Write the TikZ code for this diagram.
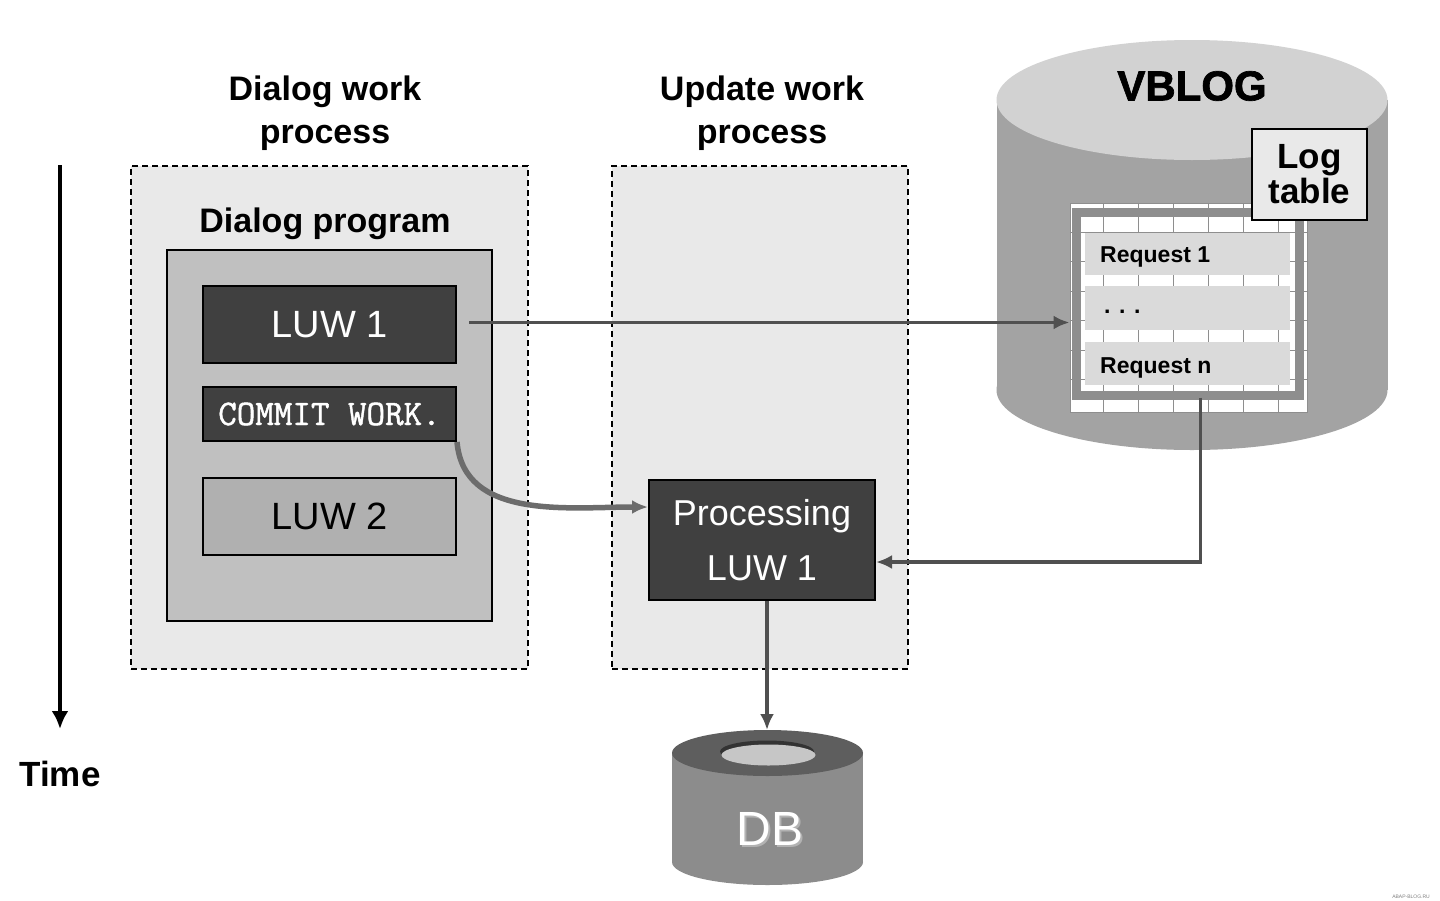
\documentclass[tikz,border=0pt]{standalone}
\usepackage{fontspec}
\setmainfont{Liberation Sans}
\newfontfamily\blackfont[FakeBold=1.6]{Liberation Sans Bold}
\newfontfamily\codefont[FakeBold=1.3]{Latin Modern Mono}
\usepackage{tikz}
\usetikzlibrary{arrows.meta,shapes}
\usepackage{xcolor}
\definecolor{paleback}{HTML}{E9E9E9}
\definecolor{progfill}{HTML}{C0C0C0}
\definecolor{darkbox}{HTML}{404040}
\definecolor{midbox}{HTML}{B0B0B0}
\definecolor{linkgray}{HTML}{505050}
\definecolor{cyltop}{HTML}{D2D2D2}
\definecolor{cylside}{HTML}{A3A3A3}
\definecolor{bandgray}{HTML}{8E8E8E}
\definecolor{rowgray}{HTML}{DADADA}
\definecolor{dbring}{HTML}{5E5E5E}
\definecolor{dbside}{HTML}{8C8C8C}
\definecolor{dbhole}{HTML}{C6C6C6}

\begin{document}
\begin{tikzpicture}[x=1pt,y=-1pt]
\tikzstyle{every node}+=[inner sep=0pt]
\tikzstyle{procarea}=[draw=black, line width=1.6pt, dash pattern=on 6pt off 4pt, fill=paleback]
\tikzstyle{darkstep}=[draw=black, line width=2pt, fill=darkbox, text=white]
\tikzstyle{title}=[font=\bfseries\fontsize{34}{43}\selectfont, align=center]
\tikzstyle{reqrow}=[font=\bfseries\fontsize{23}{28}\selectfont, anchor=west]
\tikzstyle{link}=[draw=linkgray, line width=3.5pt, -{Latex[length=16pt,width=14pt]}]
\useasboundingbox (0,0) rectangle (1440,900);
\fill [white] (0,0) rectangle (1440,900);
% time axis
\coordinate (tstart) at (60,165);
\coordinate (tend) at (60,729);
\draw [black, line width=4pt, -{Latex[length=18pt,width=17pt]}] (tstart) -- (tend);
\node (time) at (60,774) [font=\bfseries\fontsize{35}{40}\selectfont] {Time};
% dialog side
\node (dlgtitle) at (325,113) [title] {Dialog work\\process};
\node (dlgproc) at (329.5,417.5) [procarea, minimum width=397pt, minimum height=503pt] {};
\node (dlgprogtitle) at (325,224) [title] {Dialog program};
\node (dlgprog) at (329.5,435.5) [draw=black, line width=2pt, fill=progfill, minimum width=325pt, minimum height=371pt] {};
\node (luw1) at (329.5,324.5) [darkstep, minimum width=253pt, minimum height=77pt, font=\fontsize{38}{44}\selectfont] {LUW 1};
\node (commit) at (329.5,414) [darkstep, minimum width=253pt, minimum height=54pt, font=\codefont\fontsize{36}{40}\selectfont] {COMMIT WORK.};
\node (luw2) at (329.5,516.5) [draw=black, line width=2pt, fill=midbox, minimum width=253pt, minimum height=77pt, font=\fontsize{38}{44}\selectfont] {LUW 2};
% update side
\node (updtitle) at (762,113) [title] {Update work\\process};
\node (updproc) at (760,417.5) [procarea, minimum width=296pt, minimum height=503pt] {};
\node (proc) at (762,540) [darkstep, minimum width=226pt, minimum height=120pt, align=center, font=\fontsize{36}{55}\selectfont] {Processing\\LUW 1};
% VBLOG cylinder
\fill [cylside] (1192,390) ellipse [x radius=195.5pt, y radius=60pt];
\fill [cylside] (996.5,100) rectangle (1387.5,390);
\fill [cyltop] (1192,100) ellipse [x radius=195.5pt, y radius=60pt];
\node (vblog) at (1192,86) [font=\blackfont\fontsize{42}{48}\selectfont] {VBLOG};
% log table grid
\node (grid) at (1188.5,307.5) [fill=white, draw=bandgray, line width=1pt, minimum width=237pt, minimum height=209pt] {};
\foreach \x in {1103,1138,1173,1208,1243,1278}
  \draw [bandgray, line width=1pt] (\x,203) -- (\x,412);
\foreach \y in {232,261.5,291,320.5,350,379.5}
  \draw [bandgray, line width=1pt] (1070,\y) -- (1307,\y);
\draw [bandgray, line width=9pt] (1076.5,212.5) rectangle (1299.5,395);
\fill [rowgray] (1085,233) rectangle (1290,275);
\fill [rowgray] (1085,286) rectangle (1290,330);
\fill [rowgray] (1085,342) rectangle (1290,385);
\node (req1) at (1100,257) [reqrow] {Request 1};
\node (reqdots) at (1104,312) [reqrow] {. . .};
\node (reqn) at (1100,368) [reqrow] {Request n};
\node (logtab) at (1309.5,174.5) [draw=black, line width=2pt, fill=paleback, minimum width=115pt, minimum height=91pt, align=center, font=\bfseries\fontsize{35}{35}\selectfont] {Log\\table};
% DB cylinder
\fill [dbside] (767.5,862) ellipse [x radius=95.5pt, y radius=23pt];
\fill [dbside] (672,753) rectangle (863,862);
\fill [dbring] (767.5,753) ellipse [x radius=95.5pt, y radius=23pt];
\fill [black!80] (767,751.5) ellipse [x radius=47pt, y radius=11pt];
\fill [dbhole] (768.5,755) ellipse [x radius=47pt, y radius=10.5pt];
\coordinate (dbtop) at (767,730);
\node (dbshade) at (772,831) [text=gray!60, font=\fontsize{48}{50}\selectfont] {DB};
\node (db) at (770,829) [text=white, font=\fontsize{48}{50}\selectfont] {DB};
% links
\draw [link] ([xshift=12pt,yshift=2pt]luw1.east) coordinate (lstart) -- (lstart -| grid.west);
\draw [link, line width=5.5pt, draw=gray!85!black] (commit.south east) to[out=-85,in=180] ([yshift=33pt]proc.west);
\draw [link] ([xshift=12pt,yshift=15pt]grid.south) |- ([yshift=-22pt]proc.east);
\draw [link] ([xshift=5pt]proc.south) -- (dbtop);
\node (mark) at (1411,897) [text=gray, font=\fontsize{5}{6}\selectfont] {ABAP-BLOG.RU};
\end{tikzpicture}
\end{document}
